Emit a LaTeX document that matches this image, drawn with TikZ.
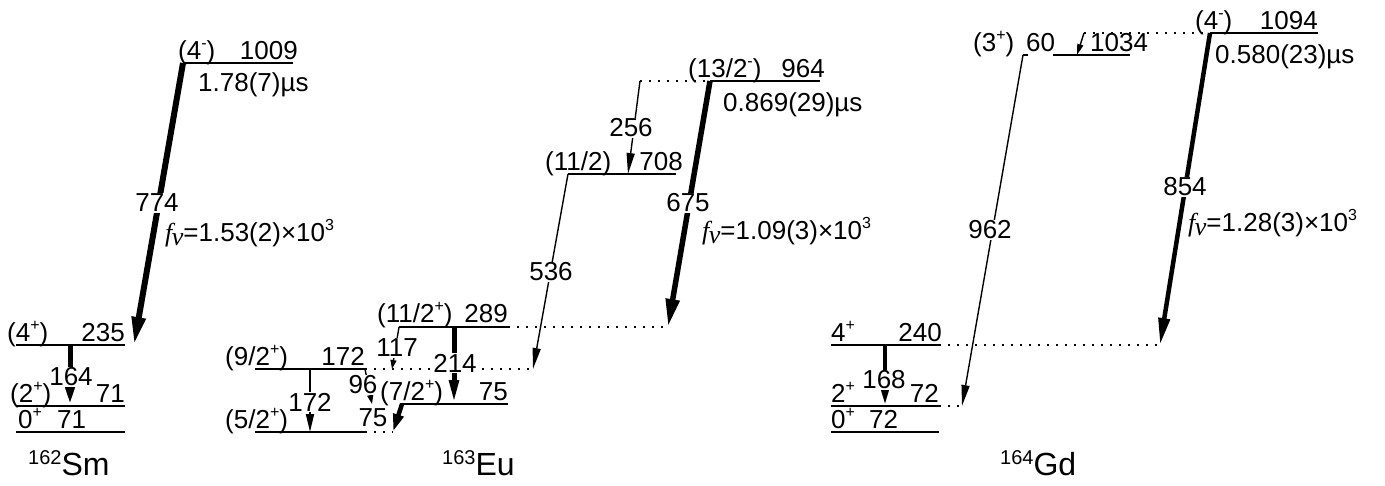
\documentclass[tikz,border=0pt]{standalone}
\usepackage{fontspec}
\setmainfont{Liberation Sans}
\newfontfamily\serfont{Liberation Serif}
\usetikzlibrary{arrows.meta}
\newcommand{\sps}[1]{\raisebox{0.42em}{\fontsize{16}{16}\selectfont #1}}
\newcommand{\fnu}{{\serfont\itshape f\kern-0.5pt\raisebox{-4pt}{ν}}}
\newcommand{\iso}[2]{\raisebox{11pt}{\fontsize{20}{20}\selectfont #1}{\fontsize{32}{32}\selectfont #2}}
\begin{document}
\begin{tikzpicture}[x=1pt,y=-1pt,
  every node/.style={font=\fontsize{26}{30}\selectfont, inner sep=0pt},
  lev/.style={line width=1.4pt},
  dots/.style={line width=1.4pt, dash pattern=on 1.5pt off 7.5pt},
  thinarr/.style={line width=1.4pt, -{Triangle[length=21pt,width=8pt]}},
  smallarr/.style={line width=1.4pt, -{Triangle[length=9pt,width=6pt]}},
  bigarr/.style={line width=6pt, -{Triangle[length=28pt,width=13pt]}},
  vertarr/.style={line width=5pt, -{Triangle[length=20pt,width=9pt]}},
  glab/.style={fill=white, inner sep=1pt},
  lab/.style={anchor=base west},
  labr/.style={anchor=base east},
]
\useasboundingbox (0,0) rectangle (1385,485);

% ---------- 162Sm ----------
\coordinate (s1009L) at (183,63);  \coordinate (s1009R) at (293,63);
\coordinate (s235L) at (16,345);   \coordinate (s235R) at (125,345);
\coordinate (s71L) at (16,406);    \coordinate (s71R) at (125,406);
\coordinate (s0L) at (16,432);     \coordinate (s0R) at (125,432);
\coordinate (s774e) at (134,345);
\coordinate (s164a) at (70,345);   \coordinate (s164b) at (70,406);

\draw[lev] (s1009L) -- (s1009R);
\draw[lev] (s235L) -- (s235R);
\draw[lev] (s71L) -- (s71R);
\draw[lev] (s0L) -- (s0R);
\draw[bigarr] (s1009L) -- (s774e);
\draw[vertarr] (s164a) -- (s164b);

\node[glab] (t774) at (157,203) {774};
\node[glab] (t164) at (71,377) {164};
\node[lab] (fs) at (165,241) {\fnu=1.53(2)×10\sps{3}};
\node[lab] (ls1) at (178,59) {(4\sps{-})};
\node[labr] (ls2) at (298,59) {1009};
\node[lab] (ls3) at (198,91) {1.78(7)µs};
\node[lab] (ls4) at (7,341) {(4\sps{+})};
\node[labr] (ls5) at (125,341) {235};
\node[lab] (ls6) at (10,402) {(2\sps{+})};
\node[labr] (ls7) at (125,402) {71};
\node[lab] (ls8) at (18,428) {0\sps{+}};
\node[lab] (ls9) at (57,428) {71};
\node[lab] (isoSm) at (28,475) {\iso{162}{Sm}};

% ---------- 163Eu ----------
\coordinate (e964D) at (640,81);  \coordinate (e964L) at (710,81);  \coordinate (e964R) at (820,81);
\coordinate (e708L) at (568,174); \coordinate (e708R) at (676,174);
\coordinate (e289L) at (399,327); \coordinate (e289R) at (508,327); \coordinate (e289D) at (668,327);
\coordinate (e172L) at (255,369); \coordinate (e172R) at (365,369); \coordinate (e172D) at (533,369);
\coordinate (e75L) at (400,404);  \coordinate (e75R) at (508,404);
\coordinate (e0L) at (255,432);   \coordinate (e0R) at (365,432);   \coordinate (e0D) at (393,432);
\coordinate (e256e) at (628,174);
\coordinate (e117e) at (392,369);
\coordinate (e214a) at (454,327); \coordinate (e214b) at (454,404);
\coordinate (e172a) at (310,369); \coordinate (e172b) at (310,432);
\coordinate (e96e) at (372,404);
\coordinate (e75a) at (402,404);

\draw[lev] (e964L) -- (e964R);  \draw[dots] (e964D) -- (e964L);
\draw[lev] (e708L) -- (e708R);
\draw[lev] (e289L) -- (e289R);  \draw[dots] (e289R) -- (e289D);
\draw[lev] (e172L) -- (e172R);  \draw[dots] (e172R) -- (e172D);
\draw[lev] (e75L) -- (e75R);
\draw[lev] (e0L) -- (e0R);      \draw[dots] (e0R) -- (e0D);

\draw[thinarr] (e964D) -- (e256e);
\draw[bigarr, line width=5.5pt] (e964L) -- (e289D);
\draw[thinarr] (e708L) -- (e172D);
\draw[smallarr] (e289L) -- (e117e);
\draw[vertarr, -{Triangle[length=24pt,width=9pt]}] (e214a) -- (e214b);
\draw[line width=1.8pt, -{Triangle[length=18pt,width=8pt]}] (e172a) -- (e172b);
\draw[smallarr] (e172R) -- (e96e);
\draw[vertarr, line width=4.5pt, -{Triangle[length=18pt,width=10pt]}] (e75a) -- (e0D);

\node[glab] (t256) at (631,128) {256};
\node[glab] (t675) at (688,203) {675};
\node[glab] (t536) at (551,272) {536};
\node[glab] (t117) at (397,348) {117};
\node[glab] (t214) at (455,363) {214};
\node[glab] (t172) at (310,402) {172};
\node[glab] (t96) at (363,385) {96};
\node (t75) at (373,418) {75};
\node[lab] (fe) at (702,239) {\fnu=1.09(3)×10\sps{3}};
\node[lab] (le1) at (688,77) {(13/2\sps{-})};
\node[labr] (le2) at (825,77) {964};
\node[lab] (le3) at (723,111) {0.869(29)µs};
\node[lab] (le4) at (545,170) {(11/2)};
\node[labr] (le5) at (683,170) {708};
\node[lab] (le6) at (377,322) {(11/2\sps{+})};
\node[labr] (le7) at (508,322) {289};
\node[lab] (le8) at (225,365) {(9/2\sps{+})};
\node[labr] (le9) at (365,365) {172};
\node[lab] (le10) at (380,400) {(7/2\sps{+})};
\node[labr] (le11) at (508,400) {75};
\node[lab] (le12) at (225,428) {(5/2\sps{+})};
\node[lab] (isoEu) at (442,475) {\iso{163}{Eu}};

% ---------- 164Gd ----------
\coordinate (g1094D) at (1084,33); \coordinate (g1094L) at (1210,33); \coordinate (g1094R) at (1318,33);
\coordinate (g1034L) at (1023,55); \coordinate (g1034M) at (1053,55); \coordinate (g1034R) at (1130,55);
\coordinate (g240L) at (831,345);  \coordinate (g240R) at (939,345);  \coordinate (g240D) at (1160,345);
\coordinate (g72L) at (831,406);   \coordinate (g72R) at (939,406);   \coordinate (g72D) at (962,406);
\coordinate (g0L) at (831,432);    \coordinate (g0R) at (939,432);
\coordinate (g60e) at (1077,55);
\coordinate (g168a) at (885,345);  \coordinate (g168b) at (885,406);

\draw[lev] (g1094L) -- (g1094R);  \draw[dots] (g1094D) -- (g1094L);
\draw[lev] (g1034L) -- ++(5,0);   \draw[lev] (g1034M) -- (g1034R);
\draw[lev] (g240L) -- (g240R);    \draw[dots] (g240R) -- (g240D);
\draw[lev] (g72L) -- (g72R);      \draw[dots] (g72R) -- (g72D);
\draw[lev] (g0L) -- (g0R);

\draw[smallarr, -{Triangle[length=11pt,width=6pt]}] (g1094D) -- (g60e);
\draw[thinarr] (g1034L) -- (g72D);
\draw[bigarr, line width=4.5pt, -{Triangle[length=27pt,width=11pt]}] (g1094L) -- (g240D);
\draw[vertarr, line width=4.5pt] (g168a) -- (g168b);

\node[glab] (t962) at (990,230) {962};
\node[glab] (t854) at (1185,187) {854};
\node[glab] (t168) at (884,380) {168};
\node[lab] (t60) at (1026,51) {60};
\node[lab] (fg) at (1188,231) {\fnu=1.28(3)×10\sps{3}};
\node[lab] (lg1) at (1195,29) {(4\sps{-})};
\node[labr] (lg2) at (1318,29) {1094};
\node[lab] (lg3) at (1215,63) {0.580(23)µs};
\node[lab] (lg4) at (973,51) {(3\sps{+})};
\node[lab] (lg5) at (1090,51) {1034};
\node[lab] (lg6) at (831,341) {4\sps{+}};
\node[labr] (lg7) at (942,341) {240};
\node[lab] (lg8) at (831,402) {2\sps{+}};
\node[labr] (lg9) at (939,402) {72};
\node[lab] (lg10) at (831,428) {0\sps{+}};
\node[lab] (lg11) at (869,428) {72};
\node[lab] (isoGd) at (1000,475) {\iso{164}{Gd}};
\end{tikzpicture}
\end{document}
